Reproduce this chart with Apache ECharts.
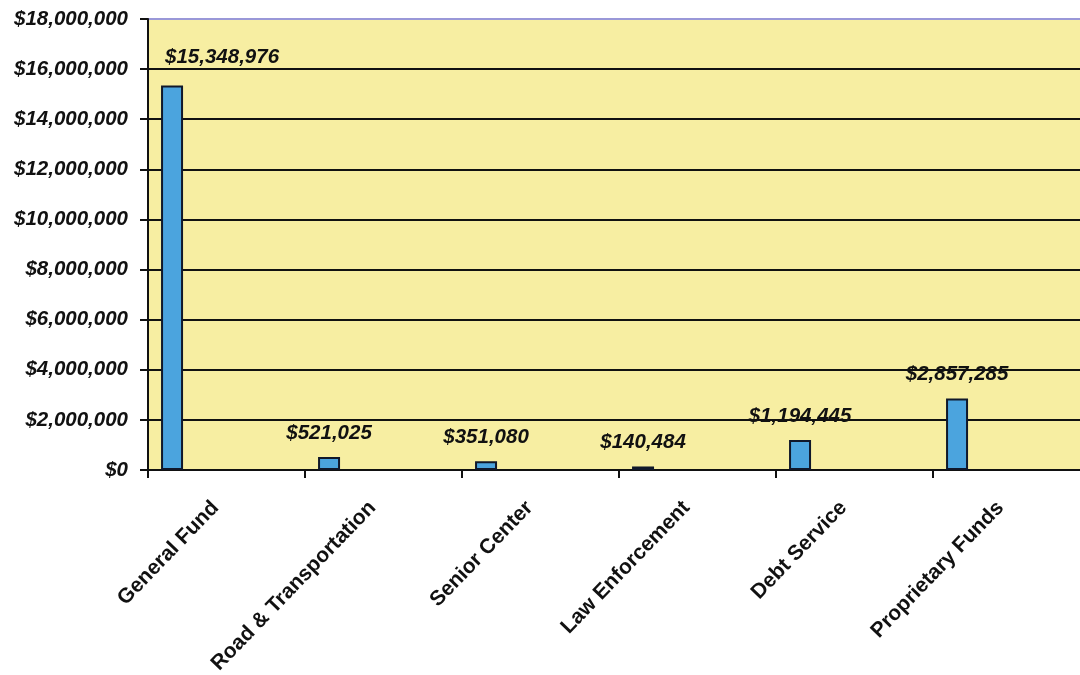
<!DOCTYPE html>
<html>
<head>
<meta charset="utf-8">
<script src="https://cdn.jsdelivr.net/npm/echarts@6/dist/echarts.min.js"></script>
<style>
html,body{margin:0;padding:0;background:#fff;}
#chart{width:1080px;height:675px;}
</style>
</head>
<body>
<div id="chart"></div>
<script>
const categories = ['General Fund', 'Road & Transportation', 'Senior Center', 'Law Enforcement', 'Debt Service', 'Proprietary Funds'];
const values = [15348976, 521025, 351080, 140484, 1194445, 2857285];
const yMin = 0;
const yMax = 18000000;
const yInterval = 2000000;

function money(v) {
  return '$' + Math.round(v).toString().replace(/\B(?=(\d{3})+(?!\d))/g, ',');
}

const chart = echarts.init(document.getElementById('chart'), null, {renderer: 'canvas'});
const splitColors = ['#111', '#111', '#111', '#111', '#111', '#111', '#111', '#111', '#111', '#9a98d8'];

chart.setOption({
  animation: false,
  backgroundColor: '#ffffff',
  grid: {
    left: 148, top: 19, width: 942, height: 451,
    outerBoundsMode: 'none', containLabel: false,
    show: true, backgroundColor: '#f7eea2', borderWidth: 0
  },
  xAxis: {
    type: 'category',
    data: categories,
    boundaryGap: true,
    axisLine: {lineStyle: {color: '#111', width: 2}},
    axisTick: {show: true, length: 8, lineStyle: {color: '#111', width: 2}},
    axisLabel: {
      rotate: 46, margin: 23, interval: 0,
      padding: [0, 16, 0, 0],
      fontFamily: 'Liberation Sans, Arial, sans-serif',
      fontWeight: 'bold', fontSize: 21, color: '#111'
    }
  },
  yAxis: {
    type: 'value',
    min: yMin, max: yMax, interval: yInterval,
    axisLine: {show: true, lineStyle: {color: '#111', width: 2}},
    axisTick: {show: true, length: 8, lineStyle: {color: '#111', width: 2}},
    splitLine: {show: true, lineStyle: {color: splitColors, width: 2}},
    axisLabel: {
      margin: 20,
      formatter: v => money(v),
      fontFamily: 'Liberation Sans, Arial, sans-serif',
      fontWeight: 'bold', fontStyle: 'italic', fontSize: 20.5, color: '#111'
    }
  },
  series: [
    {
      type: 'bar',
      barWidth: 22,
      barGap: '395%',
      data: values.map((v, i) => i === 0 ? {value: v, label: {offset: [50, -4]}} : v),
      itemStyle: {color: '#4ba4de', borderColor: '#10182a', borderWidth: 2},
      label: {
        show: true, position: 'top', distance: 14,
        formatter: p => money(p.value),
        fontFamily: 'Liberation Sans, Arial, sans-serif',
        fontWeight: 'bold', fontStyle: 'italic', fontSize: 20.5, color: '#111'
      }
    },
    {
      type: 'bar',
      barWidth: 22,
      data: categories.map(() => null)
    }
  ]
});
</script>
</body>
</html>
